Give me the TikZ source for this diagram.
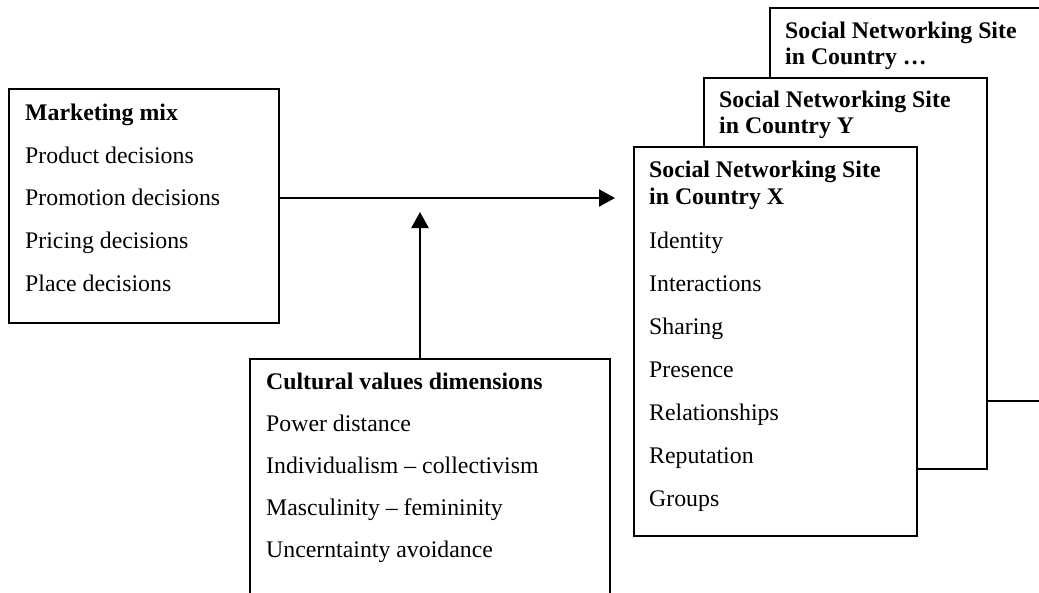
\documentclass[tikz,border=0pt]{standalone}
\usepackage{fontspec}
\setmainfont{Liberation Serif}
\usetikzlibrary{arrows.meta}
\begin{document}
\begin{tikzpicture}[x=1pt,y=-1pt,
  box/.style={draw=black, line width=1.6pt, fill=white, inner sep=0pt, outer sep=0pt, anchor=north west},
  txt/.style={inner sep=0pt, anchor=base west, font=\fontsize{23.8}{28}\selectfont},
  ttl/.style={txt, font=\fontsize{23.8}{28}\selectfont\bfseries},
  conn/.style={line width=2.2pt, -{Triangle[length=16pt,width=17pt]}}]
\useasboundingbox (0,0) rectangle (1039,592);
\clip (0,0) rectangle (1039,592);

% stacked site boxes
\node[box, minimum width=300pt, minimum height=393pt] (sd) at (770,8) {};
\node[ttl] (sd1) at (785,38) {Social Networking Site};
\node[ttl] (sd2) at (785,64) {in Country …};

\node[box, minimum width=283pt, minimum height=391pt] (sy) at (704,78) {};
\node[ttl] (sy1) at (719,107) {Social Networking Site};
\node[ttl] (sy2) at (719,133) {in Country Y};

\node[box, minimum width=283pt, minimum height=389pt] (sx) at (634,147) {};
\node[ttl] (sx1) at (649,177) {Social Networking Site};
\node[ttl] (sx2) at (649,204) {in Country X};
\node[txt] (sx3) at (649,248) {Identity};
\node[txt] (sx4) at (649,291) {Interactions};
\node[txt] (sx5) at (649,334) {Sharing};
\node[txt] (sx6) at (649,377) {Presence};
\node[txt] (sx7) at (649,420) {Relationships};
\node[txt] (sx8) at (649,463) {Reputation};
\node[txt] (sx9) at (649,506) {Groups};

% marketing mix
\node[box, minimum width=270pt, minimum height=234pt] (mm) at (9,89) {};
\node[ttl] (mm1) at (25,120) {Marketing mix};
\node[txt] (mm2) at (25,163) {Product decisions};
\node[txt] (mm3) at (25,205) {Promotion decisions};
\node[txt] (mm4) at (25,248) {Pricing decisions};
\node[txt] (mm5) at (25,291) {Place decisions};

% cultural values
\node[box, minimum width=360pt, minimum height=260pt] (cv) at (250,359) {};
\node[ttl] (cv1) at (266,389) {Cultural values dimensions};
\node[txt] (cv2) at (266,431) {Power distance};
\node[txt] (cv3) at (266,473) {Individualism – collectivism};
\node[txt] (cv4) at (266,515) {Masculinity – femininity};
\node[txt] (cv5) at (266,557) {Uncerntainty avoidance};

% connectors
\coordinate (ah) at (615,198);
\draw[conn] (mm.north east |- ah) -- (ah);
\coordinate (av) at (420,212);
\draw[conn] (cv.north -| av) -- (av);
\end{tikzpicture}
\end{document}
